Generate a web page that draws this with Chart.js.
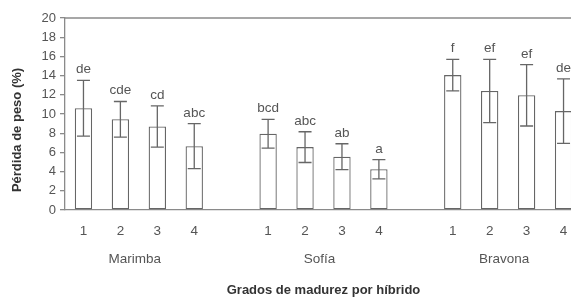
<!DOCTYPE html>
<html>
<head>
<meta charset="utf-8">
<script src="https://cdn.jsdelivr.net/npm/chart.js@4/dist/chart.umd.min.js"></script>
<style>
  html, body { margin: 0; padding: 0; background: #fff; overflow: hidden; }
  #wrap { width: 600px; height: 298px; }
</style>
</head>
<body>
<div id="wrap"><canvas id="chart"></canvas></div>
<script>
// categories: maturity grade per hybrid, with an empty slot between hybrids
var labels = ['1', '2', '3', '4', '', '1', '2', '3', '4', '', '1', '2', '3', '4'];
var hybrids = ['Marimba', 'Sofía', 'Bravona'];
var hybridRanges = [[0, 3], [5, 8], [10, 13]];
// weight loss (%) means and error (+/-)
var means = [10.6, 9.45, 8.7, 6.65, null, 7.95, 6.55, 5.55, 4.25, null, 14.05, 12.4, 11.95, 10.3];
var errors = [2.9, 1.85, 2.15, 2.35, null, 1.5, 1.6, 1.35, 1.0, null, 1.65, 3.3, 3.2, 3.35];
var letters = ['de', 'cde', 'cd', 'abc', '', 'bcd', 'abc', 'ab', 'a', '', 'f', 'ef', 'ef', 'de'];
var yTicks = [0, 2, 4, 6, 8, 10, 12, 14, 16, 18, 20];

var FONT = "'Liberation Sans', Arial, sans-serif";
var TEXT = '#555';
var LINE = '#8a8a8a';

// error bars, letters, group names, axis titles, top frame line
var extras = {
    id: 'extras',
    afterDatasetsDraw: function (chart) {
        var ctx = chart.ctx, x = chart.scales.x, y = chart.scales.y, a = chart.chartArea;
        ctx.save();

        // top frame
        ctx.strokeStyle = LINE;
        ctx.lineWidth = 1.3;
        ctx.beginPath();
        ctx.moveTo(a.left, a.top);
        ctx.lineTo(a.right, a.top);
        ctx.stroke();

        // error bars + significance letters
        ctx.strokeStyle = '#666';
        ctx.lineWidth = 1.3;
        ctx.fillStyle = TEXT;
        ctx.font = '13.5px ' + FONT;
        ctx.textAlign = 'center';
        ctx.textBaseline = 'bottom';
        means.forEach(function (m, i) {
            if (m === null) return;
            var px = x.getPixelForValue(i);
            var hi = y.getPixelForValue(m + errors[i]);
            var lo = y.getPixelForValue(m - errors[i]);
            ctx.beginPath();
            ctx.moveTo(px, hi); ctx.lineTo(px, lo);
            ctx.moveTo(px - 6.5, hi); ctx.lineTo(px + 6.5, hi);
            ctx.moveTo(px - 6.5, lo); ctx.lineTo(px + 6.5, lo);
            ctx.stroke();
            ctx.fillText(letters[i], px, hi - 4);
        });

        // hybrid names
        ctx.font = '13.5px ' + FONT;
        ctx.textBaseline = 'middle';
        hybrids.forEach(function (h, k) {
            var r = hybridRanges[k];
            var cx = (x.getPixelForValue(r[0]) + x.getPixelForValue(r[1])) / 2 - 4;
            ctx.fillText(h, cx, a.bottom + 49);
        });

        // axis titles
        ctx.fillStyle = '#333';
        ctx.font = 'bold 13px ' + FONT;
        ctx.fillText('Grados de madurez por híbrido', (a.left + a.right) / 2, a.bottom + 80);
        ctx.translate(a.left - 48, (a.top + a.bottom) / 2 + 16);
        ctx.rotate(-Math.PI / 2);
        ctx.fillText('Pérdida de peso (%)', 0, 0);
        ctx.restore();
    }
};

var ctx = document.getElementById('chart').getContext('2d');
var chart = new Chart(ctx, {
    type: 'bar',
    data: {
        labels: labels,
        datasets: [{
            data: means,
            backgroundColor: '#ffffff',
            borderColor: '#666',
            borderWidth: 1.3,
            borderSkipped: false,
            categoryPercentage: 1,
            barPercentage: 0.47
        }]
    },
    options: {
        responsive: true,
        maintainAspectRatio: false,
        animation: false,
        devicePixelRatio: 1,
        layout: { padding: { top: 18, right: 18, left: 0, bottom: 0 } },
        plugins: { legend: { display: false }, tooltip: { enabled: false } },
        scales: {
            x: {
                grid: { display: true, drawOnChartArea: false, drawTicks: false, color: LINE },
                border: { display: true, color: LINE, width: 1.3 },
                ticks: { color: TEXT, font: { family: FONT, size: 13.5 }, padding: 13, autoSkip: false, maxRotation: 0 },
                afterFit: function (s) { s.height = 88; }
            },
            y: {
                min: 0,
                max: 20,
                afterBuildTicks: function (s) { s.ticks = yTicks.map(function (v) { return { value: v }; }); },
                grid: { display: true, drawOnChartArea: false, drawTicks: true, tickLength: 5, color: LINE, lineWidth: 1.3 },
                border: { display: true, color: LINE, width: 1.3 },
                ticks: { color: TEXT, font: { family: FONT, size: 13 }, padding: 4, autoSkip: false },
                afterFit: function (s) { s.width = 65; }
            }
        }
    },
    plugins: [extras]
});
</script>
</body>
</html>
